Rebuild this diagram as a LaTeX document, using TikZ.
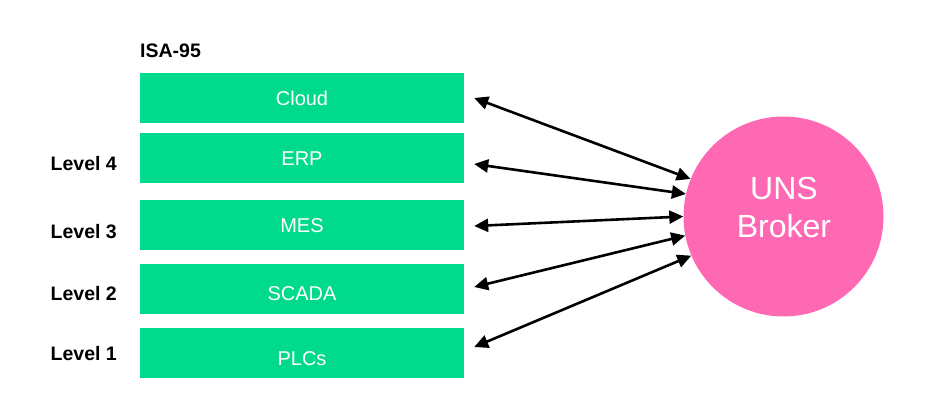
\documentclass[tikz,border=0pt]{standalone}
\usepackage{fontspec}
\setmainfont{Liberation Sans}
\usetikzlibrary{arrows.meta}
\definecolor{boxgreen}{HTML}{00DA8C}
\definecolor{unspink}{HTML}{FF69B4}
\begin{document}
\begin{tikzpicture}[x=1pt,y=-1pt,
  layer/.style={fill=boxgreen, draw=none, minimum width=324pt, minimum height=50pt, inner sep=0pt},
  layertext/.style={anchor=base, text=white, font=\fontsize{20}{24}\selectfont, inner sep=0pt},
  levellabel/.style={anchor=base east, font=\bfseries\fontsize{19.5}{24}\selectfont, inner sep=0pt},
  link/.style={line width=2.6pt, {Triangle[length=14pt,width=13pt]}-{Triangle[length=14pt,width=13pt]}},
]
\useasboundingbox (0,0) rectangle (928,417);

\node[anchor=base west, font=\bfseries\fontsize{19.5}{24}\selectfont, inner sep=0pt] (isa) at (140,58) {ISA-95};

\node[layer] (cloud) at (302,98) {};
\node[layer] (erp) at (302,158) {};
\node[layer] (mes) at (302,224.5) {};
\node[layer] (scada) at (302,289) {};
\node[layer] (plcs) at (302,353) {};

\node[layertext] (tcloud) at (302,106) {Cloud};
\node[layertext] (terp) at (302,165) {ERP};
\node[layertext] (tmes) at (302,232) {MES};
\node[layertext] (tscada) at (302,300.5) {SCADA};
\node[layertext] (tplcs) at (302,365) {PLCs};

\node[levellabel] (l4) at (117,170) {Level 4};
\node[levellabel] (l3) at (117,238.5) {Level 3};
\node[levellabel] (l2) at (117,300) {Level 2};
\node[levellabel] (l1) at (117,360) {Level 1};

\node[circle, fill=unspink, draw=none, minimum size=200pt, inner sep=0pt] (uns) at (783.5,216.5) {};
\node[align=center, text=white, inner sep=0pt, font=\fontsize{32}{38}\selectfont] (unstext) at (784,207.5) {UNS\\Broker};

\coordinate (a1) at ([xshift=10pt]cloud.east);
\coordinate (a2) at ([xshift=10pt,yshift=-6pt]erp.east);
\coordinate (a3) at ([xshift=10pt,yshift=-1.5pt]mes.east);
\coordinate (a4) at ([xshift=10pt,yshift=2pt]scada.east);
\coordinate (a5) at ([xshift=10pt,yshift=6pt]plcs.east);

\draw[link] (a1) -- (uns.158.6);
\draw[link] (a2) -- (uns.167.6);
\draw[link] (a3) -- (uns.180);
\draw[link] (a4) -- (uns.191.8);
\draw[link] (a5) -- (uns.203.3);
\end{tikzpicture}
\end{document}
